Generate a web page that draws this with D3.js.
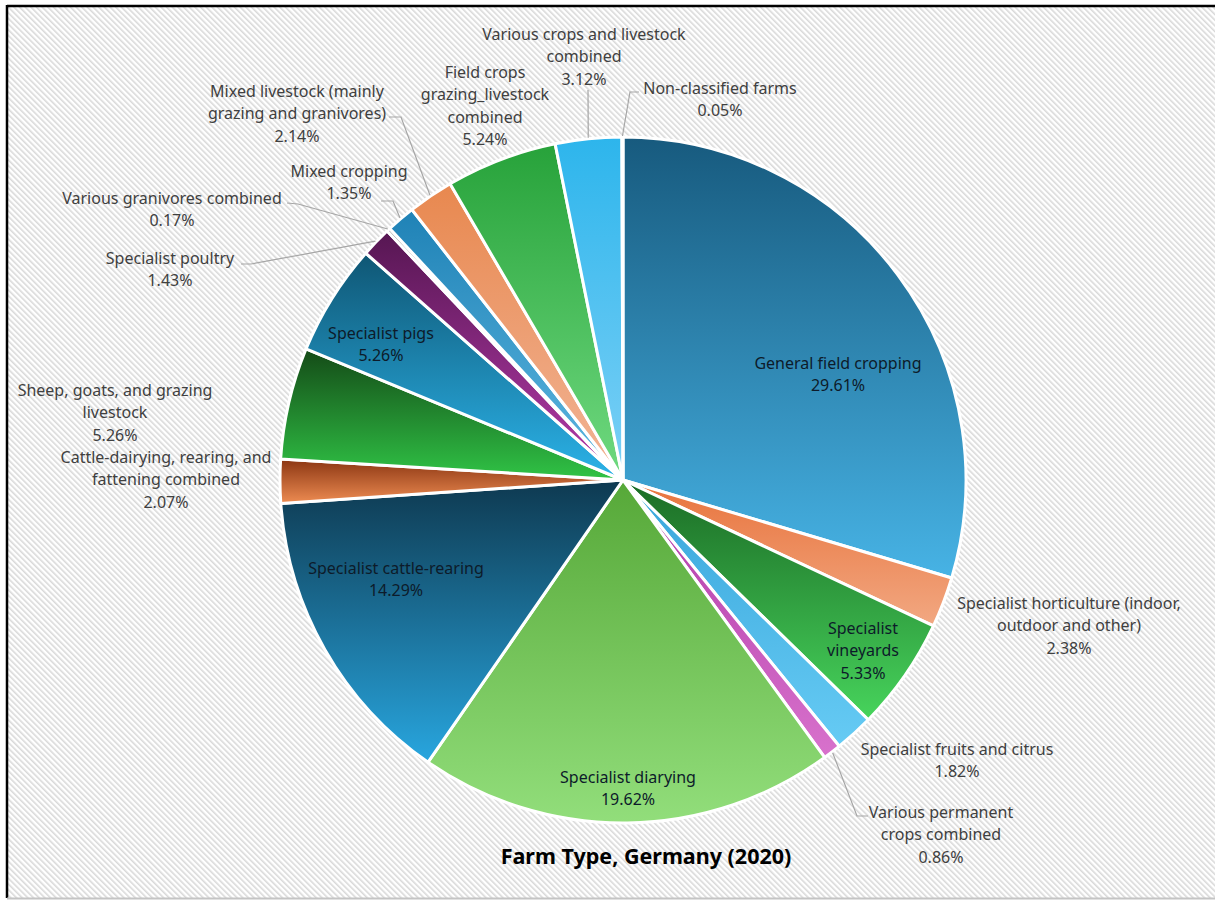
<!DOCTYPE html>
<html>
<head>
<meta charset="utf-8">
<script src="https://cdn.jsdelivr.net/npm/d3@7/dist/d3.min.js"></script>
<style>
  html, body { margin: 0; padding: 0; background: #ffffff; }
  svg { display: block; }
</style>
</head>
<body>
<script>
// ---------- DATA ----------
const categories = [
  "General field cropping",
  "Specialist horticulture (indoor, outdoor and other)",
  "Specialist vineyards",
  "Specialist fruits and citrus",
  "Various permanent crops combined",
  "Specialist diarying",
  "Specialist cattle-rearing",
  "Cattle-dairying, rearing, and fattening combined",
  "Sheep, goats, and grazing livestock",
  "Specialist pigs",
  "Specialist poultry",
  "Various granivores combined",
  "Mixed cropping",
  "Mixed livestock (mainly grazing and granivores)",
  "Field crops grazing_livestock combined",
  "Various crops and livestock combined",
  "Non-classified farms"
];
const values = [29.61, 2.38, 5.33, 1.82, 0.86, 19.62, 14.29, 2.07, 5.26, 5.26, 1.43, 0.17, 1.35, 2.14, 5.24, 3.12, 0.05];
const valueLabels = ["29.61%","2.38%","5.33%","1.82%","0.86%","19.62%","14.29%","2.07%","5.26%","5.26%","1.43%","0.17%","1.35%","2.14%","5.24%","3.12%","0.05%"];
// label text broken into lines as in the chart
const labelLines = [
  ["General field cropping"],
  ["Specialist horticulture (indoor,", "outdoor and other)"],
  ["Specialist", "vineyards"],
  ["Specialist fruits and citrus"],
  ["Various permanent", "crops combined"],
  ["Specialist diarying"],
  ["Specialist cattle-rearing"],
  ["Cattle-dairying, rearing, and", "fattening combined"],
  ["Sheep, goats, and grazing", "livestock"],
  ["Specialist pigs"],
  ["Specialist poultry"],
  ["Various granivores combined"],
  ["Mixed cropping"],
  ["Mixed livestock (mainly", "grazing and granivores)"],
  ["Field crops", "grazing_livestock", "combined"],
  ["Various crops and livestock", "combined"],
  ["Non-classified farms"]
];
const title = "Farm Type, Germany (2020)";

// ---------- STYLE / LAYOUT ----------
const gradTop = ["#175a7e","#e8733c","#1b6b25","#38a5db","#b03aa8","#56a838","#0e3950","#8a3512","#144a17","#0f5674","#561652","#9a9a9a","#1f82b6","#e8884f","#27a23a","#2db5ec","#2f5597"];
const gradBot = ["#47b3e5","#f2a882","#47d45c","#66cbf4","#d872cc","#92de7b","#28a6df","#ee8c52","#30c446","#2bb3e9","#b83cac","#cfcfcf","#5fb8e2","#f2b597","#70da80","#7cd0f6","#5b8bd6"];
const inside = [true,false,true,false,false,true,true,false,false,true,false,false,false,false,false,false,false];
// label centre x and first-line centre y (layout, in px)
const labelPos = [
  [838,363],[1069,603],[863,628],[957,749],[941,812],[628,777],[396,568],[166,457],
  [115,390],[381,333],[170,258],[172,198],[349,171],[297,91],[485,72],[584,34],[720,88]
];
// leader lines: [x,y] of label-side elbow points; pie end computed from arcs
const leaders = {
  4:  [[868,816],[857,816]],
  10: [[241,264],[251,264]],
  11: [[287,203],[298,204]],
  12: [[381,201],[393,201]],
  13: [[389,117],[401,117]],
  15: [[588,90]],
  16: [[639,92],[630,92]]
};

const W = 1215, H = 900;
const cx = 623, cy = 480, R = 343;
const FONT = "'Noto Sans', 'Open Sans', sans-serif";
const lineH = 22.5;

const svg = d3.select("body").append("svg").attr("width", W).attr("height", H);
const defs = svg.append("defs");

// hatch background
const pat = defs.append("pattern").attr("id","hatch").attr("patternUnits","userSpaceOnUse")
  .attr("width",4).attr("height",4).attr("patternTransform","rotate(-45)");
pat.append("rect").attr("width",4).attr("height",4).attr("fill","#ffffff");
pat.append("rect").attr("x",0).attr("y",0).attr("width",1.6).attr("height",4).attr("fill","#d9d9d9");

svg.append("rect").attr("x",0).attr("y",0).attr("width",W).attr("height",H).attr("fill","#ffffff");
svg.append("rect").attr("x",7).attr("y",6).attr("width",W-7).attr("height",892).attr("fill","url(#hatch)");
// border
svg.append("line").attr("x1",7).attr("y1",6).attr("x2",W).attr("y2",6).attr("stroke","#000").attr("stroke-width",2.5);
svg.append("line").attr("x1",7).attr("y1",5).attr("x2",7).attr("y2",898).attr("stroke","#000").attr("stroke-width",2.5);
svg.append("line").attr("x1",7).attr("y1",898.5).attr("x2",W).attr("y2",898.5).attr("stroke","#c4c4c4").attr("stroke-width",2);

// gradients per slice (vertical, object bounding box)
categories.forEach((c, i) => {
  const g = defs.append("linearGradient").attr("id","g"+i)
    .attr("x1",0).attr("y1",0).attr("x2",0).attr("y2",1);
  g.append("stop").attr("offset","0%").attr("stop-color",gradTop[i]);
  g.append("stop").attr("offset","100%").attr("stop-color",gradBot[i]);
});

const pie = d3.pie().sort(null).value(d => d)(values);
const arc = d3.arc().innerRadius(0).outerRadius(R);

const gPie = svg.append("g").attr("transform", `translate(${cx},${cy})`);
gPie.selectAll("path").data(pie).join("path")
  .attr("d", arc)
  .attr("fill", (d,i) => `url(#g${i})`)
  .attr("stroke", "#ffffff")
  .attr("stroke-width", 3)
  .attr("stroke-linejoin", "round");

// leader lines
Object.keys(leaders).forEach(k => {
  const i = +k;
  const d = pie[i];
  const a = (d.startAngle + d.endAngle) / 2;
  const px = cx + (R + 1) * Math.sin(a), py = cy - (R + 1) * Math.cos(a);
  const pts = leaders[k].concat([[px, py]]);
  svg.append("path")
    .attr("d", d3.line()(pts))
    .attr("fill","none").attr("stroke","#a6a6a6").attr("stroke-width",1.2);
});

// labels
const gLab = svg.append("g").attr("font-family", FONT).attr("font-size", 16);
categories.forEach((c, i) => {
  const lines = labelLines[i].concat([valueLabels[i]]);
  const [x, y] = labelPos[i];
  const t = gLab.append("text")
    .attr("text-anchor","middle")
    .attr("fill", inside[i] ? "#0d1b2a" : "#404040");
  lines.forEach((ln, j) => {
    t.append("tspan").attr("x", x).attr("y", y + j * lineH).attr("dy","0.35em").text(ln);
  });
});

// title
svg.append("text").attr("x", 646).attr("y", 856).attr("dy","0.35em")
  .attr("text-anchor","middle").attr("font-family", FONT)
  .attr("font-weight","bold").attr("font-size", 21.5).attr("fill","#000")
  .text(title);
</script>
</body>
</html>
